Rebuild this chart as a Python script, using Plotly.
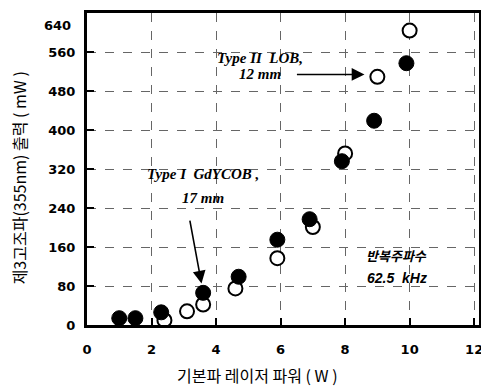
import plotly.graph_objects as go

# Data
filled_x = [1.0, 1.5, 2.3, 3.6, 4.7, 5.9, 6.9, 7.9, 8.9, 9.9]
filled_y = [14, 14, 26, 66, 99, 175, 217, 336, 419, 537]
open_x = [2.4, 3.1, 3.6, 4.6, 5.9, 7.0, 8.0, 9.0, 10.0]
open_y = [10, 28, 42, 75, 137, 201, 352, 509, 604]

x_ticks = [0, 2, 4, 6, 8, 10, 12]
y_ticks = [0, 80, 160, 240, 320, 400, 480, 560, 640]
y_ticktext = ["0", "80", "160", "240", "320", "400", "480", "560", ""]
x_title = "기본파 레이저 파워 ( W )"
y_title = "제3고조파(355nm) 출력 ( mW )"

fig = go.Figure()
fig.add_trace(go.Scatter(x=open_x, y=open_y, mode="markers",
                         marker=dict(size=14, color="white", line=dict(color="black", width=2)),
                         showlegend=False))
fig.add_trace(go.Scatter(x=filled_x, y=filled_y, mode="markers",
                         marker=dict(size=15, color="black", line=dict(color="black", width=1)),
                         showlegend=False))

ann_font = dict(family="Liberation Serif, serif", size=15, color="black", weight="bold")
sans_it = dict(family="Liberation Sans, sans-serif", size=14, color="black", weight="bold")
ko_font = dict(family="Noto Sans CJK KR, sans-serif", size=13, color="black", weight="bold")
tick_font = dict(family="DejaVu Sans, sans-serif", size=13, color="black", weight="bold")
title_font = dict(family="Noto Sans CJK KR, sans-serif", size=16, color="black")

annotations = [
    dict(x=3.55, y=85, ax=3.18, ay=217, xref="x", yref="y", axref="x", ayref="y",
         showarrow=True, arrowhead=2, arrowsize=1.6, arrowwidth=1.6, arrowcolor="black", text=""),
    dict(x=8.6, y=514, ax=6.46, ay=514, xref="x", yref="y", axref="x", ayref="y",
         showarrow=True, arrowhead=2, arrowsize=1.6, arrowwidth=1.6, arrowcolor="black", text=""),
    dict(x=3.6, y=310, xref="x", yref="y", text="<i>Type I  GdYCOB ,</i>", showarrow=False, font=ann_font),
    dict(x=3.6, y=261, xref="x", yref="y", text="<i>17 mm</i>", showarrow=False, font=ann_font),
    dict(x=5.35, y=547, xref="x", yref="y", text="<i>Type II  LOB,</i>", showarrow=False, font=ann_font),
    dict(x=5.35, y=514, xref="x", yref="y", text="<i>12 mm</i>", showarrow=False, font=ann_font),
    dict(x=9.6, y=142, xref="x", yref="y", text="<i>반복주파수</i>", showarrow=False, font=ko_font),
    dict(x=9.6, y=96, xref="x", yref="y", text="<i>62.5  kHz</i>", showarrow=False, font=sans_it),
    # top tick label drawn a little below the frame corner, as in the reference
    dict(x=0, y=1, xref="paper", yref="paper", text="640", showarrow=False, font=tick_font,
         xanchor="right", xshift=-14, yshift=-3),
    # axis titles
    dict(x=0.434, y=-0.159, xref="paper", yref="paper", text=x_title, showarrow=False,
         font=title_font, yanchor="middle"),
    dict(x=0, y=0.47, xref="paper", yref="paper", text=y_title, showarrow=False, font=title_font,
         textangle=-90, xanchor="center", yanchor="middle", xshift=-68),
]

axis_common = dict(
    showline=True, linewidth=3, linecolor="black", mirror=True,
    ticks="inside", ticklen=7, tickwidth=2, tickcolor="black",
    showgrid=True, gridcolor="#666666", gridwidth=1, griddash="dash",
    zeroline=False,
    tickfont=tick_font,
)

# the page body adds an 8px offset; size/margins compensate for it
fig.update_layout(
    width=481, height=380,
    margin=dict(l=79, r=10, t=2, b=63),
    paper_bgcolor="white", plot_bgcolor="white",
    annotations=annotations,
    xaxis=dict(range=[0, 12.15], tickvals=x_ticks, ticklabelstandoff=10, **axis_common),
    yaxis=dict(range=[0, 640], tickvals=y_ticks, ticktext=y_ticktext, ticklabelstandoff=6,
               **axis_common),
)

fig.write_html("out.html")
